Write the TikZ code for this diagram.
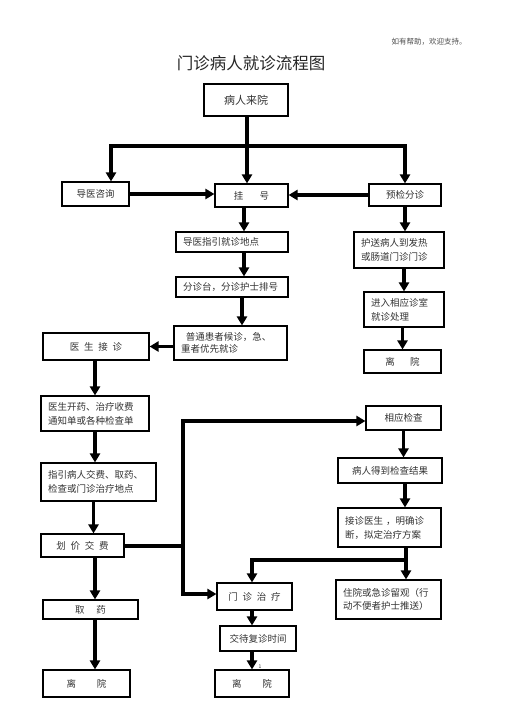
\documentclass[tikz,border=0pt]{standalone}
\usepackage{fontspec}
\setmainfont{Noto Sans CJK SC}
\usetikzlibrary{arrows.meta}

\begin{document}
\begin{tikzpicture}[
    x=1pt, y=-1pt,
    box/.style={
        rectangle, draw=black, line width=1.1pt,
        inner sep=0pt, text=black!80,
        font=\fontsize{9.5}{14}\selectfont
    },
    note/.style={box, align=left, inner xsep=7pt},
    flow/.style={line width=3.6pt, black},
    arrow/.style={flow, -{Triangle[length=9pt, width=10pt]}}
]
\fill[white] (0,0) rectangle (505,715);
\useasboundingbox (0,0) rectangle (505,715);

% header and title
\node[text=black!70, font=\fontsize{7.5}{9}\selectfont] (thanks) at (429,42) {如有帮助，欢迎支持。};
\node[text=black!85, font=\fontsize{16.5}{18}\selectfont] (title) at (251,63) {门诊病人就诊流程图};

% arrival and registration
\node[box, minimum width=84, minimum height=32, font=\fontsize{11}{13}\selectfont] (come) at (246,100) {病人来院};
\node[box, minimum width=67, minimum height=24] (guide) at (95.5,194) {导医咨询};
\node[box, minimum width=73, minimum height=23] (reg) at (251.5,195.5) {挂\hspace{1.7em}号};
\node[box, minimum width=72, minimum height=22] (triage) at (405,195) {预检分诊};

% middle column
\node[note, text width=98, minimum height=20] (lead) at (232,242) {导医指引就诊地点};
\node[note, text width=98, minimum height=20] (desk) at (232,287) {分诊台，分诊护士排号};
\node[note, text width=99, minimum height=34, font=\fontsize{9.5}{12}\selectfont] (wait) at (230.5,343) {\hspace{0.5em}普通患者候诊，急、\\重者优先就诊};

% right column (fever / intestinal clinic)
\node[note, text width=76, minimum height=36] (escort) at (399,250) {护送病人到发热\\或肠道门诊门诊};
\node[note, text width=66, minimum height=35] (enter) at (404,309.5) {进入相应诊室\\就诊处理};
\node[box, minimum width=77, minimum height=23] (leaveR) at (402.5,361.5) {离\hspace{1.6em}院};

% left column
\node[box, minimum width=106, minimum height=27] (doctor) at (96,346.5) {医\enspace 生\enspace 接\enspace 诊};
\node[note, text width=94, minimum height=35] (prescribe) at (95,413.5) {医生开药、治疗收费\\通知单或各种检查单};
\node[note, text width=101, minimum height=38] (direct) at (98.5,482) {指引病人交费、取药、\\检查或门诊治疗地点};
\node[box, minimum width=83, minimum height=23] (pay) at (82.5,545.5) {划\enspace 价\enspace 交\enspace 费};
\node[box, minimum width=95, minimum height=19] (drug) at (90.5,609.5) {取\hspace{1.25em}药};
\node[box, minimum width=87, minimum height=27] (leaveL) at (86.5,683.5) {离\hspace{2.2em}院};

% examination branch
\node[box, minimum width=75, minimum height=24] (exam) at (403.5,418) {相应检查};
\node[box, minimum width=104, minimum height=25] (result) at (390,470.5) {病人得到检查结果};
\node[note, text width=89, minimum height=39] (plan) at (389.5,527.5) {接诊医生\ ，明确诊\\断，拟定治疗方案};
\node[note, text width=91, minimum height=39, font=\fontsize{9.5}{12.5}\selectfont] (admit) at (388.5,599.5) {住院或急诊留观（行\\动不便者护士推送）};

% outpatient treatment
\node[box, minimum width=75, minimum height=27] (treat) at (254.5,596.5) {门\enspace 诊\enspace 治\enspace 疗};
\node[box, minimum width=76, minimum height=25] (revisit) at (258,638.5) {交待复诊时间};
\node[box, minimum width=74, minimum height=27] (leaveM) at (252,683.5) {离\hspace{2.2em}院};
\node[text=black!80, font=\fontsize{5}{6}\selectfont] (pageno) at (260,667) {1};

% connectors from arrival
\coordinate (split) at (247,146);
\draw[flow] (come.south -| split) -- (split);
\draw[arrow] (split) -| ([xshift=15.5]guide.north);
\draw[arrow] (split) -- (split |- reg.north);
\draw[arrow] (split) -| (triage.north);
\draw[arrow] (guide.east) -- (guide.east -| reg.west);
\draw[arrow] (triage.west) -- (triage.west -| reg.east);

% middle and right columns
\draw[arrow] ([xshift=-7.5]reg.south) -- ([xshift=-7.5]reg.south |- lead.north);
\draw[arrow] ([xshift=12]lead.south) -- ([xshift=12]lead.south |- desk.north);
\draw[arrow] ([xshift=10]desk.south) -- ([xshift=10]desk.south |- wait.north);
\draw[arrow] (triage.south) -- (triage.south |- escort.north);
\draw[arrow] (escort.south -| enter.north) -- (enter.north);
\draw[arrow] (enter.south -| leaveR.north) -- (leaveR.north);

% left column
\draw[arrow] (wait.west |- doctor.east) -- (doctor.east);
\draw[arrow] (doctor.south -| prescribe.north) -- (prescribe.north);
\draw[arrow] (prescribe.south) -- (prescribe.south |- direct.north);
\draw[arrow] ([xshift=-5]direct.south) -- ([xshift=-5]direct.south |- pay.north);
\draw[arrow] ([xshift=4.5]drug.north |- pay.south) -- ([xshift=4.5]drug.north);
\draw[arrow] ([xshift=4.5]drug.south) -- ([xshift=4.5]drug.south |- leaveL.north);

% after payment: examination or treatment
\coordinate (fork) at (183,546);
\draw[flow] (pay.east |- fork) -- (fork);
\draw[arrow] (fork) |- ([yshift=-3]exam.west);
\draw[arrow] (fork) |- ([yshift=2.5]treat.west);
\draw[arrow] (exam.south) -- (exam.south |- result.north);
\draw[arrow] ([xshift=15]result.south) -- ([xshift=15]result.south |- plan.north);
\coordinate (merge) at (406,560);
\draw[flow] ([xshift=16.5]plan.south) -- (merge);
\draw[arrow] (merge) -- (merge |- admit.north);
\draw[arrow] (merge) -| ([xshift=-2.5]treat.north);
\draw[arrow] ([xshift=-2.5]treat.south) -- ([xshift=-2.5]treat.south |- revisit.north);
\draw[arrow] (revisit.south -| leaveM.north) -- (leaveM.north);

\end{tikzpicture}
\end{document}
